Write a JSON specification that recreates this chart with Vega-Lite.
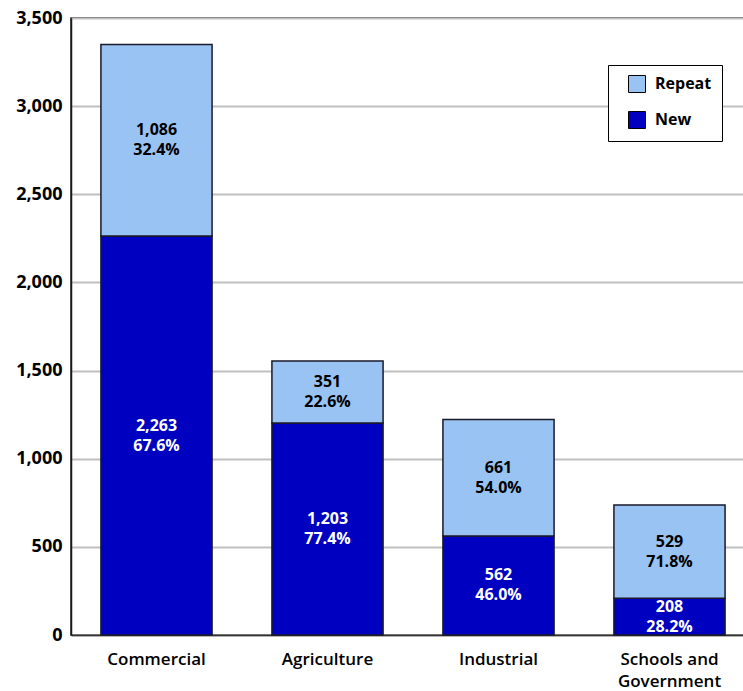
{
  "$schema": "https://vega.github.io/schema/vega-lite/v6.json",
  "autosize": "none",
  "width": 684,
  "height": 617,
  "padding": {"left": 71, "top": 18, "right": 0, "bottom": 56},
  "background": "white",
  "config": {
    "font": "Open Sans",
    "view": {"stroke": "#1a1a1a", "strokeWidth": 1.5},
    "axis": {"labelFont": "Open Sans", "labelFontWeight": "bold", "labelFontSize": 17, "labelColor": "#000000", "ticks": false, "title": null}
  },
  "data": {
    "values": [
      {"category": "Commercial", "type": "New", "value": 2263, "pct": "67.6%"},
      {"category": "Commercial", "type": "Repeat", "value": 1086, "pct": "32.4%"},
      {"category": "Agriculture", "type": "New", "value": 1203, "pct": "77.4%"},
      {"category": "Agriculture", "type": "Repeat", "value": 351, "pct": "22.6%"},
      {"category": "Industrial", "type": "New", "value": 562, "pct": "46.0%"},
      {"category": "Industrial", "type": "Repeat", "value": 661, "pct": "54.0%"},
      {"category": "Schools and Government", "type": "New", "value": 208, "pct": "28.2%"},
      {"category": "Schools and Government", "type": "Repeat", "value": 529, "pct": "71.8%"}
    ]
  },
  "transform": [
    {"calculate": "datum.type == 'New' ? 0 : 1", "as": "order"},
    {"stack": "value", "groupby": ["category"], "sort": [{"field": "order", "order": "ascending"}], "as": ["y0", "y1"]},
    {"calculate": "(datum.y0 + datum.y1) / 2", "as": "ymid"},
    {"calculate": "[format(datum.value, ',d'), datum.pct]", "as": "label"}
  ],
  "encoding": {
    "x": {
      "field": "category",
      "type": "nominal",
      "sort": ["Commercial", "Agriculture", "Industrial", "Schools and Government"],
      "scale": {"paddingInner": 0.35, "paddingOuter": 0.175},
      "axis": {
        "labelAngle": 0,
        "labelPadding": 16,
        "domain": true,
        "domainColor": "#333333",
        "domainWidth": 1.5,
        "labelExpr": "datum.label == 'Schools and Government' ? ['Schools and', 'Government'] : datum.label",
        "labelLineHeight": 22,
        "labelFontWeight": 600,
        "labelFontSize": 17
      }
    }
  },
  "layer": [
    {
      "mark": {"type": "bar", "stroke": "#1a1a2a", "strokeWidth": 1.5},
      "encoding": {
        "y": {
          "field": "y1",
          "type": "quantitative",
          "scale": {"domain": [0, 3500], "nice": false},
          "axis": {
            "values": [0, 500, 1000, 1500, 2000, 2500, 3000, 3500],
            "format": ",d",
            "grid": true,
            "gridColor": "#c0c0c0",
            "gridWidth": 2,
            "domain": true,
            "domainColor": "#1a1a1a",
            "domainWidth": 1.5,
            "labelPadding": 9,
            "labelFontSize": 18
          }
        },
        "y2": {"field": "y0"},
        "fill": {
          "field": "type",
          "type": "nominal",
          "scale": {"domain": ["Repeat", "New"], "range": ["#99c3f3", "#0000c0"]},
          "legend": {
            "title": null,
            "orient": "none",
            "legendX": 537,
            "legendY": 47,
            "fillColor": "white",
            "strokeColor": "#000000",
            "padding": 10,
            "symbolOffset": 10,
            "symbolType": "square",
            "symbolSize": 289,
            "symbolStrokeColor": "#000000",
            "symbolStrokeWidth": 1,
            "labelFont": "Open Sans",
            "labelFontWeight": "bold",
            "labelFontSize": 16,
            "labelColor": "#000000",
            "rowPadding": 14,
            "labelOffset": 9
          }
        }
      }
    },
    {
      "mark": {"type": "text", "fontWeight": "bold", "fontSize": 16, "lineHeight": 20, "baseline": "middle", "align": "center", "dy": -10},
      "encoding": {
        "y": {"field": "ymid", "type": "quantitative"},
        "text": {"field": "label"},
        "color": {
          "field": "type",
          "type": "nominal",
          "scale": {"domain": ["Repeat", "New"], "range": ["#000000", "#ffffff"]},
          "legend": null
        }
      }
    }
  ]
}
